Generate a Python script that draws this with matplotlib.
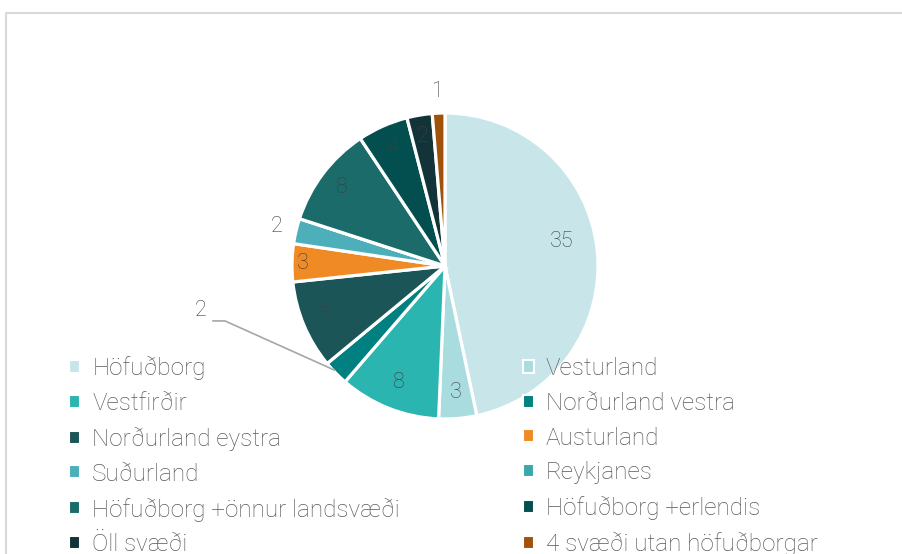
import matplotlib
matplotlib.use("Agg")
import matplotlib.pyplot as plt
from matplotlib.lines import Line2D
from matplotlib.patches import Patch
import numpy as np

categories = ["Höfuðborg", "Vesturland", "Vestfirðir", "Norðurland vestra",
              "Norðurland eystra", "Austurland", "Suðurland", "Reykjanes",
              "Höfuðborg +önnur landsvæði", "Höfuðborg +erlendis", "Öll svæði",
              "4 svæði utan höfuðborgar"]
values = [35, 3, 8, 2, 7, 3, 2, 0, 8, 4, 2, 1]
colors = ["#C8E6EA", "#A9DCDF", "#2BB5B0", "#008080", "#1B5558", "#F08A24",
          "#4DAFBA", "#3AA8AA", "#1B6B6A", "#034F50", "#123438", "#A0520A"]

# label layout (radius factor relative to pie radius, angle nudge in degrees)
label_r = [0.78, 0.83, 0.82, None, 0.86, 0.93, 1.13, None, 0.85, 0.85, 0.86, 1.14]
label_dth = [6, 0, 0, 0, 0, 0, 0, 0, 0, 0, 0, 0]

FONT = "Roboto"
plt.rcParams['font.family'] = [FONT, 'DejaVu Sans']

W, H = 902, 554
fig = plt.figure(figsize=(W / 100, H / 100), dpi=100)

# border
fig.add_artist(Line2D([5.5 / W, 5.5 / W, 1.0], [0.0, 1 - 12.5 / H, 1 - 12.5 / H],
                      transform=fig.transFigure, color="#D9D9D9", lw=1.5))

cx, cy, R = 445, 266, 153
half = 200
ax = fig.add_axes([(cx - half) / W, (H - cy - half) / H, 2 * half / W, 2 * half / H])

wedges, _ = ax.pie(values, colors=colors, startangle=90, counterclock=False,
                   radius=1, wedgeprops=dict(edgecolor="white", linewidth=2.3))
lim = half / R
ax.set_xlim(-lim, lim)
ax.set_ylim(-lim, lim)
ax.axis("off")

total = sum(values)
cum = 0
for i, v in enumerate(values):
    a0 = cum / total * 360
    cum += v
    if v == 0:
        continue
    mid = 90 - (a0 + v / total * 360 / 2)
    th = np.deg2rad(mid + label_dth[i])
    if label_r[i] is not None:
        ax.text(label_r[i] * np.cos(th), label_r[i] * np.sin(th), str(v),
                ha="center", va="center", fontsize=15.5, color="#404040",
                fontweight="light")
    else:
        # leader line label
        px, py = np.cos(th), np.sin(th)
        ax.plot([px - 0.01, -1.438, -1.516], [py + 0.02, -0.359, -0.359],
                color="#A6A6A6", lw=1.2, clip_on=False)
        ax.text(-1.595, -0.294, str(v), ha="center", va="center", fontsize=15.5,
                color="#404040", fontweight="light")

handles = [Patch(facecolor=c, edgecolor="white", linewidth=1.5) for c in colors]
# legend is filled row by row: reorder for column-major layout
order = list(range(0, len(categories), 2)) + list(range(1, len(categories), 2))
leg = fig.legend([handles[k] for k in order], [categories[k] for k in order],
                 ncol=2, loc="upper left",
                 bbox_to_anchor=(59.5 / W, 1 - 346 / H), frameon=False,
                 prop=dict(family=FONT, size=17.5, weight="light"),
                 handlelength=0.45, handleheight=0.45, handletextpad=0.5,
                 columnspacing=5.05, labelspacing=0.485, borderaxespad=0)
for t in leg.get_texts():
    t.set_color("#595959")

fig.savefig("out.png", dpi=100)
